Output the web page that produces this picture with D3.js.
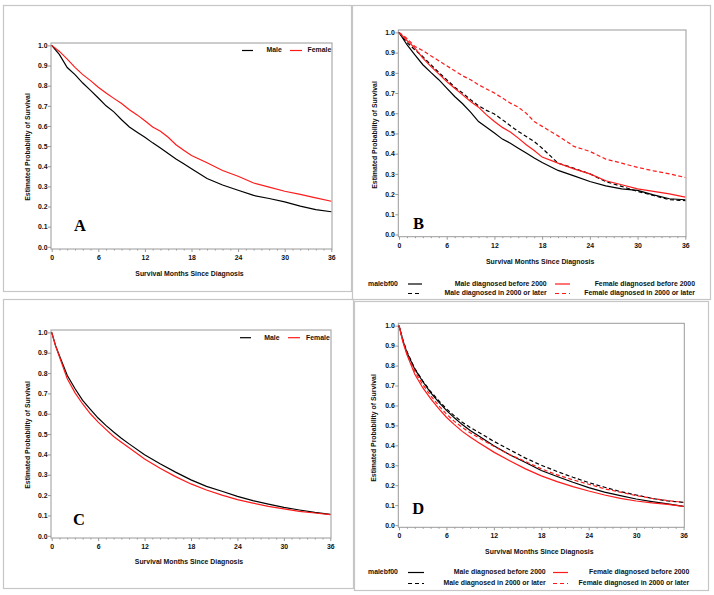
<!DOCTYPE html>
<html>
<head>
<meta charset="utf-8">
<script src="https://cdn.jsdelivr.net/npm/d3@7"></script>
<style>
  html, body { margin: 0; padding: 0; background: #fff; }
  svg { display: block; }
</style>
</head>
<body>
<svg id="chart" width="714" height="595"></svg>
<script>
// ---------------- DATA ----------------
const monthsAB = [0,1,2,3,4,5,6,7,8,9,10,11,12,13,14,15,16,17,18,20,22,24,26,28,30,32,34,36];
const monthsCD = [0,0.5,1,2,3,4,5,6,7,8,9,10,12,14,16,18,20,22,24,26,28,30,32,34,36];
const xTicks = [0,6,12,18,24,30,36];
const yTicks = [0,0.1,0.2,0.3,0.4,0.5,0.6,0.7,0.8,0.9,1.0];

// Panel A
const aMale   = [1.0,0.954,0.89,0.855,0.813,0.777,0.739,0.70,0.67,0.631,0.595,0.569,0.544,0.516,0.491,0.463,0.436,0.412,0.387,0.339,0.307,0.281,0.255,0.24,0.223,0.202,0.185,0.174];
const aFemale = [1.0,0.97,0.932,0.891,0.855,0.825,0.792,0.764,0.737,0.711,0.681,0.655,0.626,0.595,0.574,0.544,0.507,0.479,0.453,0.417,0.379,0.350,0.317,0.296,0.276,0.26,0.243,0.226];

// Panel B
const bMaleBefore   = [1.0,0.939,0.889,0.84,0.802,0.766,0.724,0.683,0.647,0.606,0.559,0.531,0.502,0.472,0.452,0.427,0.403,0.378,0.356,0.317,0.29,0.262,0.241,0.226,0.218,0.196,0.177,0.172];
const bMaleLater    = [1.0,0.95,0.914,0.88,0.84,0.802,0.766,0.729,0.70,0.667,0.637,0.614,0.596,0.568,0.538,0.51,0.485,0.46,0.427,0.353,0.328,0.30,0.262,0.238,0.213,0.193,0.172,0.168];
const bFemaleBefore = [1.0,0.96,0.922,0.873,0.832,0.795,0.757,0.724,0.691,0.658,0.63,0.592,0.559,0.53,0.507,0.477,0.444,0.416,0.383,0.353,0.325,0.30,0.266,0.246,0.226,0.213,0.201,0.185];
const bFemaleLater  = [1.0,0.97,0.93,0.91,0.884,0.86,0.835,0.81,0.785,0.766,0.741,0.72,0.70,0.675,0.65,0.63,0.60,0.559,0.535,0.488,0.436,0.411,0.373,0.353,0.332,0.315,0.30,0.282];

// Panel C
const cMale   = [1.0,0.935,0.885,0.789,0.724,0.666,0.622,0.579,0.543,0.51,0.48,0.452,0.398,0.354,0.313,0.275,0.243,0.219,0.194,0.173,0.156,0.14,0.127,0.115,0.105];
const cFemale = [1.0,0.933,0.88,0.773,0.704,0.648,0.60,0.559,0.523,0.488,0.46,0.433,0.378,0.332,0.291,0.255,0.225,0.20,0.178,0.161,0.145,0.132,0.12,0.112,0.104];

// Panel D
const dMaleBefore   = [1.0,0.925,0.866,0.782,0.72,0.664,0.618,0.575,0.538,0.504,0.474,0.449,0.398,0.353,0.314,0.274,0.244,0.215,0.188,0.165,0.148,0.131,0.118,0.106,0.094];
const dMaleLater    = [1.0,0.927,0.87,0.785,0.724,0.67,0.625,0.583,0.548,0.516,0.49,0.467,0.42,0.378,0.336,0.30,0.269,0.24,0.213,0.19,0.168,0.151,0.134,0.121,0.114];
const dFemaleBefore = [1.0,0.918,0.855,0.756,0.689,0.634,0.585,0.541,0.504,0.47,0.442,0.415,0.366,0.323,0.282,0.247,0.218,0.193,0.171,0.151,0.134,0.121,0.111,0.104,0.094];
const dFemaleLater  = [1.0,0.92,0.86,0.77,0.705,0.65,0.60,0.557,0.52,0.49,0.463,0.44,0.395,0.353,0.319,0.282,0.252,0.227,0.205,0.182,0.165,0.148,0.134,0.123,0.114];

const twoSexLabels = ["Male","Female"];
const fourLabels = ["Male diagnosed before 2000","Female diagnosed before 2000","Male diagnosed in 2000 or later","Female diagnosed in 2000 or later"];
const legendTitle = "malebf00";
const xTitle = "Survival Months Since Diagnosis";
const yTitle = "Estimated Probability of Survival";

// ---------------- DRAW ----------------
const svg = d3.select("#chart");
const BORDER = "#c6c6c6", FRAME = "#9a9a9a", RED = "#ff1a1a";
const FS = 6.9;
const SANS = "'Liberation Sans', Arial, sans-serif";

function txt(sel){
  return sel.style("font-family",SANS).style("font-weight","bold").attr("font-size",FS).attr("fill","#111");
}

function panelBorder(x0,y0,x1,y1){
  svg.append("rect").attr("x",x0+0.5).attr("y",y0+0.5).attr("width",x1-x0).attr("height",y1-y0)
    .attr("fill","none").attr("stroke",BORDER).attr("stroke-width",1.2);
}
panelBorder(3,5,351,291);
panelBorder(352,5,710,299);
panelBorder(3,299,353,588);
panelBorder(354,301,708,590);

function drawPanel(cfg){
  const g = svg.append("g");
  const x = d3.scaleLinear().domain([0,36]).range([cfg.fx0+0.7, cfg.fx1-0.7]);
  const y = d3.scaleLinear().domain([0,1]).range([cfg.fy1-2.2, cfg.fy0+2.4]);

  // frame
  g.append("rect").attr("x",cfg.fx0).attr("y",cfg.fy0).attr("width",cfg.fx1-cfg.fx0).attr("height",cfg.fy1-cfg.fy0)
    .attr("fill","none").attr("stroke",FRAME).attr("stroke-width",1);

  // x axis
  const xa = g.append("g").attr("transform",`translate(0,${cfg.fy1})`)
    .call(d3.axisBottom(x).tickValues(xTicks).tickSize(3).tickFormat(d3.format("d")));
  xa.select(".domain").remove();
  xa.selectAll("line").attr("stroke",FRAME);
  txt(xa.selectAll("text")).attr("dy","0.71em").attr("y",6);
  // minor x ticks
  g.append("g").attr("transform",`translate(0,${cfg.fy1})`)
    .call(d3.axisBottom(x).tickValues(d3.range(1,36).filter(v=>v%6!==0)).tickSize(1.5).tickFormat(""))
    .call(s=>{s.select(".domain").remove(); s.selectAll("line").attr("stroke",FRAME);});

  // y axis
  const ya = g.append("g").attr("transform",`translate(${cfg.fx0},0)`)
    .call(d3.axisLeft(y).tickValues(yTicks).tickSize(3).tickFormat(d3.format(".1f")));
  ya.select(".domain").remove();
  ya.selectAll("line").attr("stroke",FRAME);
  txt(ya.selectAll("text")).attr("x",-3.5);

  // titles
  txt(g.append("text")).attr("x",(cfg.fx0+cfg.fx1)/2 - 2).attr("y",cfg.xTitleY).attr("text-anchor","middle")
    .attr("dominant-baseline","middle").text(xTitle);
  txt(g.append("text")).attr("transform",`translate(${cfg.yTitleX},${cfg.yTitleCy}) rotate(-90)`).attr("text-anchor","middle")
    .attr("dominant-baseline","middle").text(yTitle);

  // curves
  const line = d3.line().x(d=>x(d[0])).y(d=>y(d[1]));
  cfg.series.forEach(s=>{
    g.append("path").datum(cfg.months.map((m,i)=>[m,s.values[i]]))
      .attr("d",line).attr("fill","none").attr("stroke",s.color).attr("stroke-width",1.2)
      .attr("stroke-dasharray",s.dash||null);
  });

  // panel letter
  g.append("text").attr("x",cfg.letterX).attr("y",cfg.letterY)
    .style("font-family","'Liberation Serif','Times New Roman',serif").style("font-weight","bold")
    .attr("font-size",16.5).attr("fill","#000").text(cfg.letter);
}

function insideLegend(ly, items){
  items.forEach(it=>{
    svg.append("line").attr("x1",it.lx0).attr("x2",it.lx1).attr("y1",ly).attr("y2",ly)
      .attr("stroke",it.color).attr("stroke-width",1.2);
    txt(svg.append("text")).attr("x",it.tx).attr("y",ly).attr("dominant-baseline","middle").text(it.label);
  });
}

function bottomLegend(cfg){
  txt(svg.append("text")).attr("x",cfg.titleX).attr("y",cfg.row1).attr("dominant-baseline","middle").text(legendTitle);
  const entries = [
    {label:fourLabels[0],color:"#000",dash:null,row:cfg.row1,col:0},
    {label:fourLabels[1],color:RED,dash:null,row:cfg.row1,col:1},
    {label:fourLabels[2],color:"#000",dash:"4,3",row:cfg.row2,col:0},
    {label:fourLabels[3],color:RED,dash:"4,3",row:cfg.row2,col:1}
  ];
  entries.forEach(e=>{
    const c = cfg.cols[e.col];
    svg.append("line").attr("x1",c.lx0).attr("x2",c.lx1).attr("y1",e.row).attr("y2",e.row)
      .attr("stroke",e.color).attr("stroke-width",1.2).attr("stroke-dasharray",e.dash);
    txt(svg.append("text")).attr("x",c.tEnd).attr("y",e.row).attr("text-anchor","end")
      .attr("dominant-baseline","middle").text(e.label);
  });
}

// Panel A
drawPanel({fx0:51,fx1:332,fy0:43,fy1:249,xTitleY:274.5,yTitleX:28.5,yTitleCy:147,letter:"A",letterX:74,letterY:231,
  months:monthsAB,
  series:[{values:aMale,color:"#000"},{values:aFemale,color:RED}]});
insideLegend(50.5,[
  {label:twoSexLabels[0],color:"#000",lx0:242,lx1:253,tx:266.5},
  {label:twoSexLabels[1],color:RED,lx0:290,lx1:302,tx:307.5}
]);

// Panel B
drawPanel({fx0:398.3,fx1:686,fy0:30,fy1:236.7,xTitleY:261.7,yTitleX:375,yTitleCy:135,letter:"B",letterX:413,letterY:228.5,
  months:monthsAB,
  series:[
    {values:bMaleBefore,color:"#000"},
    {values:bMaleLater,color:"#000",dash:"4,2.5"},
    {values:bFemaleBefore,color:RED},
    {values:bFemaleLater,color:RED,dash:"4,2.5"}
  ]});
bottomLegend({titleX:368,row1:284,row2:293.5,cols:[{lx0:408,lx1:422,tEnd:546.7},{lx0:555,lx1:570,tEnd:695}]});

// Panel C
drawPanel({fx0:51,fx1:331,fy0:330,fy1:538,xTitleY:562,yTitleX:28.5,yTitleCy:435,letter:"C",letterX:73,letterY:525,
  months:monthsCD,
  series:[{values:cMale,color:"#000"},{values:cFemale,color:RED}]});
insideLegend(337.7,[
  {label:twoSexLabels[0],color:"#000",lx0:240,lx1:251,tx:264.3},
  {label:twoSexLabels[1],color:RED,lx0:288,lx1:300,tx:306}
]);

// Panel D
drawPanel({fx0:398.3,fx1:684.3,fy0:323.3,fy1:527.3,xTitleY:552,yTitleX:374.5,yTitleCy:428,letter:"D",letterX:412.3,letterY:514.3,
  months:monthsCD,
  series:[
    {values:dMaleBefore,color:"#000"},
    {values:dMaleLater,color:"#000",dash:"4,2.5"},
    {values:dFemaleBefore,color:RED},
    {values:dFemaleLater,color:RED,dash:"4,2.5"}
  ]});
bottomLegend({titleX:368,row1:572.5,row2:583.5,cols:[{lx0:408,lx1:424,tEnd:545.7},{lx0:553,lx1:568,tEnd:689.3}]});
</script>
</body>
</html>
